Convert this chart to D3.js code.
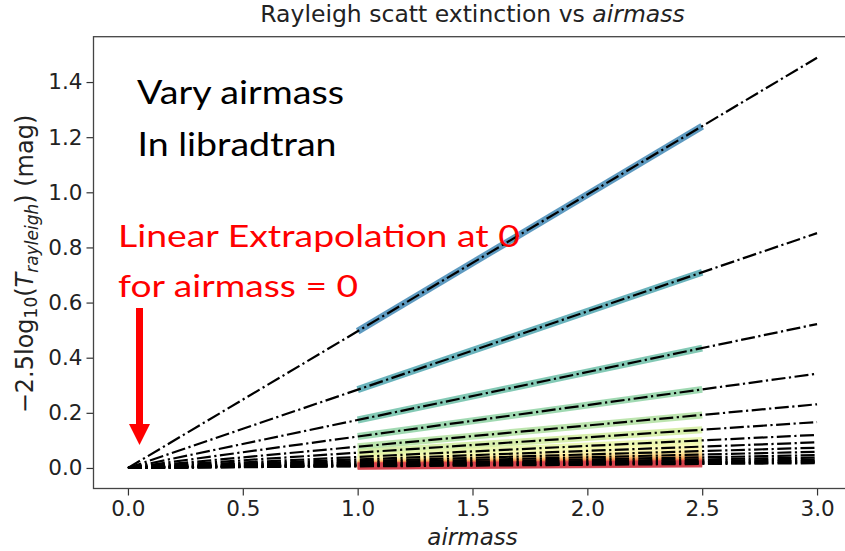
<!DOCTYPE html>
<html>
<head>
<meta charset="utf-8">
<script src="https://cdn.jsdelivr.net/npm/d3@7"></script>
<style>
  html, body { margin: 0; padding: 0; background: #fff; }
  svg { display: block; }
</style>
</head>
<body>
<svg id="chart" width="845" height="551"></svg>
<script>
// Rayleigh extinction (mag) at airmass 1, one entry per wavelength band (350 → 1100 nm)
const wavelengths = [350, 400, 450, 500, 550, 600, 650, 700, 750, 800, 850, 900, 950, 1000, 1050, 1100];
const zenithExtinction = [0.496, 0.284, 0.174, 0.114, 0.077, 0.0555, 0.040, 0.031, 0.0245, 0.0195, 0.0155, 0.0125, 0.0102, 0.0084, 0.0070, 0.0058];

// airmass range simulated, and range of the linear fit
const simulatedAirmass = [1.0, 2.5];
const fitAirmass = [0.0, 3.0];

const xTicks = [0.0, 0.5, 1.0, 1.5, 2.0, 2.5, 3.0];
const yTicks = [0.0, 0.2, 0.4, 0.6, 0.8, 1.0, 1.2, 1.4];

const svg = d3.select("#chart");
const pLeft = 93.5, pRight = 851.5, pTop = 36.7, pBottom = 488.5;

const x = d3.scaleLinear().domain([-0.15, 3.15]).range([pLeft, pRight]);
const y = d3.scaleLinear().domain([-0.0745, 1.5645]).range([pBottom, pTop]);

const color = d3.scaleLinear()
  .domain([0, wavelengths.length - 1])
  .range([0.9, 0.1]);

const clipId = "plotclip";
svg.append("defs").append("clipPath").attr("id", clipId)
  .append("rect").attr("x", pLeft).attr("y", pTop).attr("width", pRight - pLeft).attr("height", pBottom - pTop);
const plot = svg.append("g").attr("clip-path", `url(#${clipId})`);

const line = d3.line().x(d => x(d[0])).y(d => y(d[1]));

// simulated extinction, coloured by wavelength
zenithExtinction.forEach((k, i) => {
  plot.append("path")
    .attr("d", line(simulatedAirmass.map(a => [a, k * a])))
    .attr("fill", "none")
    .attr("stroke", d3.interpolateSpectral(color(i)))
    .attr("stroke-opacity", 0.85)
    .attr("stroke-width", 7);
});

// linear extrapolation through airmass 0
zenithExtinction.forEach((k) => {
  plot.append("path")
    .attr("d", line(fitAirmass.map(a => [a, k * a])))
    .attr("fill", "none")
    .attr("stroke", "#000")
    .attr("stroke-width", 2.2)
    .attr("stroke-dasharray", "14,3.5,2.2,3.5");
});

// axes
const font = "DejaVu Sans, sans-serif";
const xAxis = svg.append("g").attr("transform", `translate(0,${pBottom})`)
  .call(d3.axisBottom(x).tickValues(xTicks).tickFormat(d3.format(".1f")).tickSize(7).tickPadding(5));
const yAxis = svg.append("g").attr("transform", `translate(${pLeft},0)`)
  .call(d3.axisLeft(y).tickValues(yTicks).tickFormat(d3.format(".1f")).tickSize(7).tickPadding(4));
[xAxis, yAxis].forEach(g => {
  g.select(".domain").remove();
  g.selectAll("line").attr("stroke", "#333").attr("stroke-width", 1.2);
  g.selectAll("text").attr("font-family", font).attr("font-size", 21.5).attr("fill", "#222");
});

// frame
svg.append("rect")
  .attr("x", pLeft).attr("y", pTop).attr("width", pRight - pLeft).attr("height", pBottom - pTop)
  .attr("fill", "none").attr("stroke", "#444").attr("stroke-width", 1.3);

// title
const title = svg.append("text")
  .attr("x", (pLeft + pRight) / 2).attr("y", 22)
  .attr("text-anchor", "middle").attr("font-family", font).attr("font-size", 23.5).attr("fill", "#222");
title.append("tspan").text("Rayleigh scatt extinction vs ");
title.append("tspan").attr("font-style", "italic").text("airmass");

// x label
svg.append("text")
  .attr("x", (pLeft + pRight) / 2).attr("y", 545)
  .attr("text-anchor", "middle").attr("font-family", font).attr("font-size", 23)
  .attr("font-style", "italic").attr("fill", "#222").text("airmass");

// y label
const yl = svg.append("text")
  .attr("transform", `translate(33,264) rotate(-90)`)
  .attr("text-anchor", "middle").attr("font-family", font).attr("font-size", 24).attr("fill", "#222");
yl.append("tspan").text("\u22122.5log");
yl.append("tspan").attr("font-size", 17).attr("dy", 4).text("10");
yl.append("tspan").attr("dy", -4).text("(");
yl.append("tspan").attr("font-style", "italic").text("T");
yl.append("tspan").attr("font-style", "italic").attr("font-size", 17).attr("dy", 5).text("rayleigh");
yl.append("tspan").attr("dy", -5).text(") (mag)");

// annotations
const note = "Lato, Carlito, sans-serif";
svg.append("text").attr("x", 137).attr("y", 104).attr("font-family", note).attr("font-size", 33)
  .attr("fill", "#000").attr("textLength", 207).attr("lengthAdjust", "spacingAndGlyphs").text("Vary airmass");
svg.append("text").attr("x", 137.5).attr("y", 156).attr("font-family", note).attr("font-size", 33)
  .attr("fill", "#000").attr("textLength", 199).attr("lengthAdjust", "spacingAndGlyphs").text("In libradtran");
svg.append("text").attr("x", 118).attr("y", 247).attr("font-family", note).attr("font-size", 31)
  .attr("fill", "#ff0000").attr("textLength", 402).attr("lengthAdjust", "spacingAndGlyphs").text("Linear Extrapolation at 0");
svg.append("text").attr("x", 118).attr("y", 297).attr("font-family", note).attr("font-size", 31)
  .attr("fill", "#ff0000").attr("textLength", 240).attr("lengthAdjust", "spacingAndGlyphs").text("for airmass = 0");

// arrow pointing at the origin
svg.append("rect").attr("x", 136).attr("y", 308).attr("width", 7).attr("height", 118).attr("fill", "#ff0000");
svg.append("path").attr("d", "M129,424 L150,424 L139.5,445 Z").attr("fill", "#ff0000");
</script>
</body>
</html>
